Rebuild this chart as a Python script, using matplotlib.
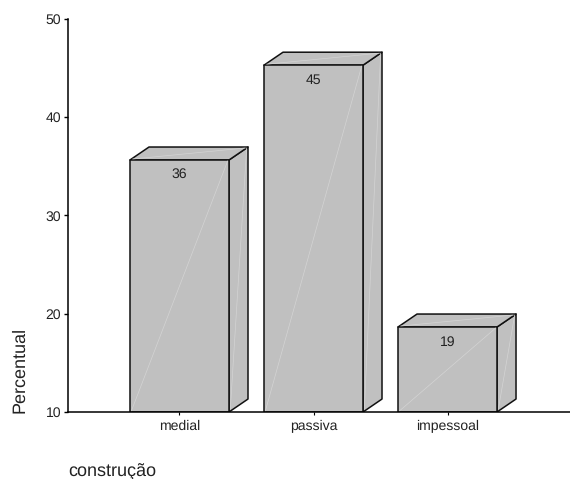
import matplotlib
matplotlib.use('Agg')
import matplotlib.pyplot as plt
from matplotlib.patches import Polygon

plt.rcParams['font.family'] = ['Liberation Sans', 'DejaVu Sans']
plt.rcParams['text.hinting'] = 'no_hinting'
plt.rcParams['text.hinting_factor'] = 1

categories = ["medial", "passiva", "impessoal"]
values = [35.65, 45.3, 18.65]
bar_labels = ["36", "45", "19"]
y_ticks = [10, 20, 30, 40, 50]

W, H = 570, 479
fig = plt.figure(figsize=(W / 100, H / 100), dpi=100, facecolor='white')

# axes placed in pixels: left 68, right 570, y=10 at 412, y=50 at 19
ax = fig.add_axes([68 / W, (H - 412) / H, (570 - 68) / W, (412 - 19) / H])
ax.set_xlim(-0.832, 2.914)
ax.set_ylim(10, 50)

width = 99 / 134
dx = 19 / 134   # 3d depth
dy = 1.32
GRAY = '#c0c0c0'
LIGHT = '#d4d4d4'

for i, v in enumerate(values):
    x0, x1 = i - width / 2, i + width / 2
    front = [(x0, 10), (x1, 10), (x1, v), (x0, v)]
    side = [(x1, 10), (x1 + dx, 10 + dy), (x1 + dx, v + dy), (x1, v)]
    top = [(x0, v), (x1, v), (x1 + dx, v + dy), (x0 + dx, v + dy)]
    for pts in (side, top, front):
        ax.add_patch(Polygon(pts, closed=True, facecolor=GRAY, edgecolor='#111111',
                             linewidth=1.1, joinstyle='round', zorder=3))
    # faint facet seams
    ax.plot([x0 + 0.01, x1 - 0.01], [10.1, v - 0.1], color=LIGHT, lw=0.5, zorder=4)
    ax.plot([x1 + 0.01, x1 + dx - 0.01], [10.3, v + dy - 0.1], color=LIGHT, lw=0.5, zorder=4)
    ax.plot([x0 + 0.02, x1 + dx - 0.02], [v + 0.1, v + dy - 0.1], color=LIGHT, lw=0.5, zorder=4)
    ax.text(i, v - 1.5, bar_labels[i], ha='center', va='center', fontsize=10.3, color='#222222', zorder=5)

for s in ('top', 'right'):
    ax.spines[s].set_visible(False)
for s in ('left', 'bottom'):
    ax.spines[s].set_linewidth(1.1)
    ax.spines[s].set_zorder(6)

ax.set_xticks(range(len(categories)))
ax.set_xticklabels(categories, fontsize=10, color='#222222')
ax.set_yticks(y_ticks)
ax.tick_params(axis='x', length=2.5, width=0.8, pad=3)
ax.tick_params(axis='y', length=3, width=1.0, pad=2, labelsize=10, labelcolor='#222222')

fig.text(20 / W, (H - 413) / H, "Percentual", rotation=90, ha='center', va='bottom',
         fontsize=13, color='#222222')
fig.text(68 / W, (H - 472) / H, "construção", ha='left', va='center', fontsize=13, color='#222222')

plt.savefig("out.png", dpi=100, facecolor='white')
plt.close()
